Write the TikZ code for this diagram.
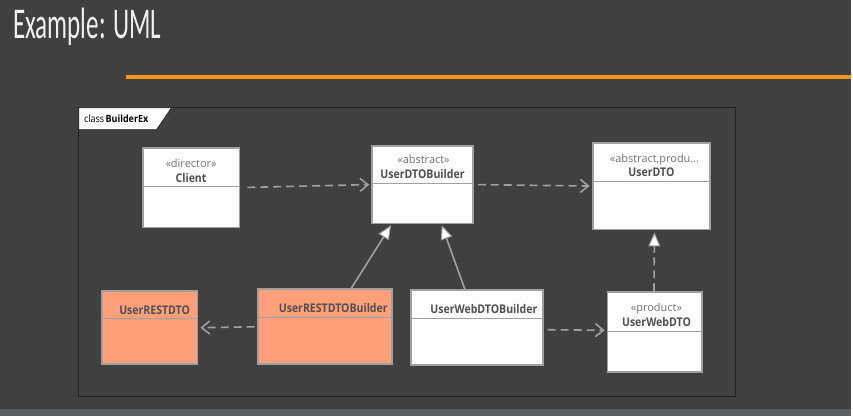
\documentclass[tikz,border=0pt]{standalone}
\usepackage{fontspec}
\setmainfont{Open Sans}
\newfontfamily\titlefont{Carlito}
\usetikzlibrary{arrows.meta, positioning, calc}
\definecolor{slidebg}{RGB}{64, 64, 64}
\definecolor{slidestrip}{RGB}{92, 96, 100}
\definecolor{accentorange}{RGB}{247, 148, 29}
\definecolor{boxline}{RGB}{160, 160, 160}
\definecolor{boxfill}{RGB}{253, 253, 253}
\definecolor{restfill}{RGB}{255, 160, 122}
\definecolor{nametext}{RGB}{80, 80, 80}
\definecolor{stereotext}{RGB}{115, 115, 115}
\definecolor{framedark}{RGB}{34, 34, 34}
\newcommand{\clsname}[1]{\scalebox{0.88}[1]{#1}}

\begin{document}
\begin{tikzpicture}[x=1pt, y=-1pt,
    umlbox/.style={draw=boxline, line width=1.8pt, fill=boxfill, inner sep=0pt},
    restbox/.style={umlbox, fill=restfill},
    divider/.style={draw=boxline, line width=1.5pt},
    stereo/.style={font=\fontsize{11}{13}\selectfont, text=stereotext, inner sep=0pt},
    cname/.style={font=\fontsize{12}{14}\selectfont\bfseries, text=nametext, inner sep=0pt},
    dep/.style={draw=boxline, line width=1.6pt, dash pattern=on 8pt off 5pt, -{Straight Barb[length=8pt, width=13pt, line width=1.6pt]}},
    real/.style={draw=boxline, line width=1.6pt, -{Triangle[length=14pt, width=12pt, fill=white, line width=1pt]}}
]
    % Slide background
    \fill[slidebg] (0,0) rectangle (853,417);
    \fill[slidestrip] (0,410) rectangle (853,417);

    % Title and orange rule
    \node[anchor=base west, font=\titlefont\fontsize{44}{50}\selectfont, text=white!94!black, inner sep=0pt] (title) at (13,39) {\scalebox{0.57}[1]{Example: UML}};
    \draw[accentorange, line width=4pt] (126,77.5) -- (853,77.5);

    % Frame with tab
    \draw[framedark, line width=0.8pt] (79,108) rectangle (737,397);
    \filldraw[fill=white, draw=framedark, line width=0.8pt] (79,108) -- (172,108) -- (157,130) -- (79,130) -- cycle;
    \node[anchor=west, font=\fontsize{10}{12}\selectfont, text=black, inner sep=0pt] (frametitle) at (84,119) {\scalebox{0.9}[1]{class\,\textbf{BuilderEx}}};

    % Top row
    \node[umlbox, minimum width=97pt, minimum height=80pt] (client) at (191.5,188) {};
    \draw[divider] ([yshift=-40pt]client.north west) -- ([yshift=-40pt]client.north east);
    \node[stereo] (clientst) at (191.5,164) {«director»};
    \node[cname] (clientnm) at (191.5,178) {\clsname{Client}};

    \node[umlbox, minimum width=101pt, minimum height=78pt] (udb) at (423.5,185) {};
    \draw[divider] ([yshift=-39pt]udb.north west) -- ([yshift=-39pt]udb.north east);
    \node[stereo] (udbst) at (424.5,160) {«abstract»};
    \node[cname] (udbnm) at (423.5,174) {\clsname{UserDTOBuilder}};

    \node[umlbox, minimum width=118pt, minimum height=87pt] (udto) at (653,186.5) {};
    \draw[divider] ([yshift=-40pt]udto.north west) -- ([yshift=-40pt]udto.north east);
    \node[stereo] (udtost) at (656,160) {«abstract,produ…};
    \node[cname] (udtonm) at (653,173) {\clsname{UserDTO}};

    % Bottom row
    \node[restbox, minimum width=96pt, minimum height=73pt] (rest) at (150,328.5) {};
    \draw[divider] ([yshift=-28pt]rest.north west) -- ([yshift=-28pt]rest.north east);
    \node[cname] (restnm) at (155,311) {\clsname{UserRESTDTO}};

    \node[restbox, minimum width=134pt, minimum height=75pt] (restb) at (326,327.5) {};
    \draw[divider] ([yshift=-29pt]restb.north west) -- ([yshift=-29pt]restb.north east);
    \node[cname] (restbnm) at (334,309) {\clsname{UserRESTDTOBuilder}};

    \node[umlbox, minimum width=132pt, minimum height=75pt] (webb) at (478,328.5) {};
    \draw[divider] ([yshift=-29pt]webb.north west) -- ([yshift=-29pt]webb.north east);
    \node[cname] (webbnm) at (485,310) {\clsname{UserWebDTOBuilder}};

    \node[umlbox, minimum width=95pt, minimum height=80pt] (web) at (656.5,333) {};
    \draw[divider] ([yshift=-40pt]web.north west) -- ([yshift=-40pt]web.north east);
    \node[stereo] (webst) at (658,309) {«product»};
    \node[cname] (webnm) at (658,323) {\clsname{UserWebDTO}};

    % Connectors
    \draw[dep, shorten <=7pt, shorten >=2pt] (client.east) -- (udb.west);
    \draw[dep, shorten <=4pt, shorten >=2pt] (udb.east) -- (udto.west);
    \draw[real, shorten >=1pt] ([xshift=26pt]restb.north) -- ([xshift=-31pt]udb.south);
    \draw[real, shorten >=1pt] ([xshift=-12pt]webb.north) -- ([xshift=19pt]udb.south);
    \draw[real, dash pattern=on 8pt off 5pt, shorten >=2pt] ([xshift=-1pt]web.north) -- ([xshift=3pt]udto.south);
    \draw[dep, shorten <=4pt, shorten >=2pt] ([yshift=-2pt]webb.east) -- ([yshift=2pt]web.west);
    \draw[dep, shorten <=3pt, shorten >=2pt] (restb.west) -- (rest.east);
\end{tikzpicture}
\end{document}
